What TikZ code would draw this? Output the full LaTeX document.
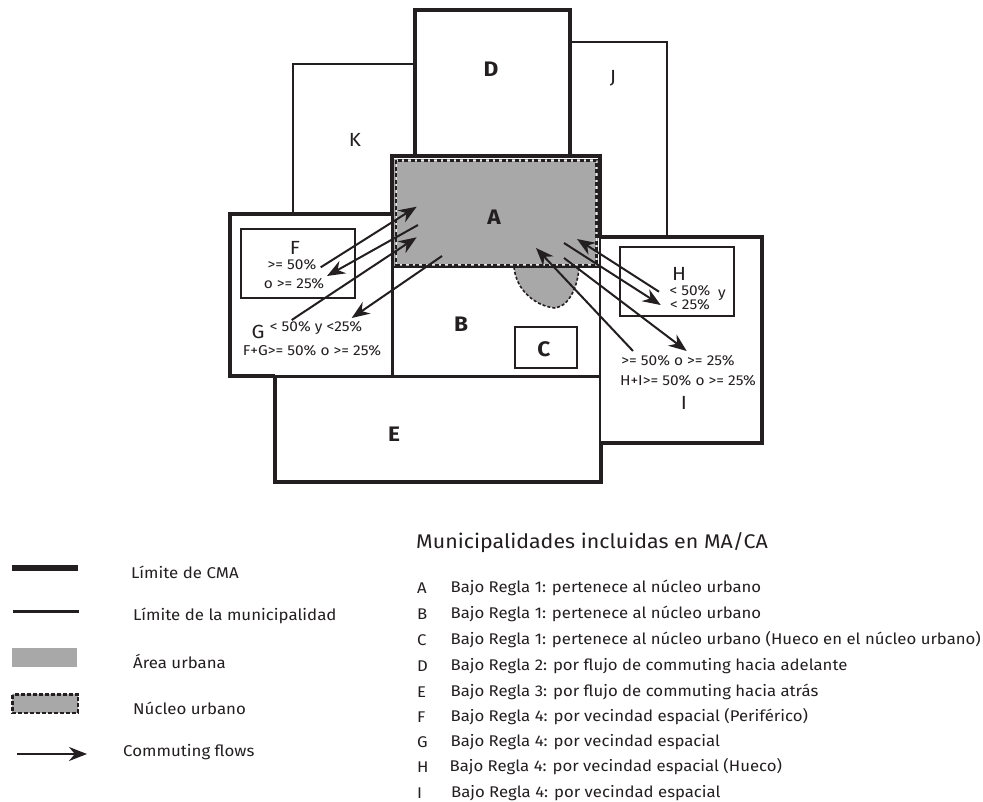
\documentclass[tikz,border=0pt]{standalone}
\usepackage{fontspec}
\setmainfont[FakeStretch=1.08]{Fira Sans}
\usetikzlibrary{arrows.meta}
\definecolor{ink}{HTML}{231F20}
\definecolor{urb}{HTML}{A9A8A9}
\tikzset{
  x=1pt,y=-1pt,
  cma/.style={draw=ink,line width=4.5pt,line join=miter},
  muni/.style={draw=ink,line width=2pt},
  mid/.style={draw=ink,line width=2.5pt},
  nucleo/.style={draw=ink,line width=2.5pt,dash pattern=on 4pt off 2.5pt},
  flow/.style={draw=ink,line width=2pt,-{Stealth[length=18pt,width=14pt]}},
  lab/.style={inner sep=0pt,text=ink,anchor=center},
  big/.style={lab,font=\fontsize{21}{21}\selectfont\bfseries},
  reg/.style={lab,font=\fontsize{19}{19}\selectfont},
  pct/.style={lab,font=\fontsize{14.3}{14.3}\selectfont},
  leg/.style={inner sep=0pt,text=ink,anchor=west,font=\fontsize{15.6}{15.6}\selectfont},
  lst/.style={inner sep=0pt,text=ink,anchor=west,font=\fontsize{15.5}{15.5}\selectfont},
}
\begin{document}
\begin{tikzpicture}
\useasboundingbox (0,0) rectangle (983,802);
% urban areas
\fill[urb] (394,159) rectangle (598,267);
\fill[urb] (514,267) .. controls (516,290) and (535,306) .. (555,308) .. controls (570,306) and (578,285) .. (579,267) -- cycle;
\draw[ink,line width=1.6pt,dash pattern=on 3pt off 2pt] (514,267) .. controls (516,290) and (535,306) .. (555,308) .. controls (570,306) and (578,285) .. (579,267);
% municipalities
\draw[muni] (415,64) -- (293,64) -- (293,214);
\draw[muni] (570,42) -- (667,42) -- (667,238);
\draw[mid] (392,267) -- (600,267);
\draw[mid] (230,376.5) -- (600,376.5);
\draw[muni] (600,237) -- (600,443);
\draw[mid] (241,229) rectangle (355,298);
\draw[mid] (620,247) rectangle (734,316);
\draw[mid] (515,327) rectangle (577,368);
% CMA limits
\draw[cma] (415,156) -- (415,10) -- (570,10) -- (570,156);
\draw[cma] (392,214) -- (392,156) -- (600,156) -- (600,238);
\draw[cma] (392,214) -- (230,214) -- (230,376) -- (275,376);
\draw[draw=ink,line width=3pt] (392,214) -- (392,376);
\draw[cma] (275,376) -- (275,482) -- (601,482) -- (601,443);
\draw[cma] (600,237) -- (762,237) -- (762,443) -- (599,443);
% core outline
\draw[draw=white,line width=1pt,opacity=.8] (396,160.5) rectangle (596.5,265);
\draw[nucleo] (396,160.5) rectangle (596.5,265);
% flows
\coordinate (a1) at (320.7,267.3); \coordinate (b1) at (416.7,206.7);
\coordinate (a2) at (418,225);     \coordinate (b2) at (327,276);
\coordinate (a3) at (291.7,320);   \coordinate (b3) at (416.7,237.3);
\coordinate (a4) at (442,256);     \coordinate (b4) at (351.7,318);
\coordinate (a5) at (659,291.7);   \coordinate (b5) at (577,239);
\coordinate (a6) at (564,243);     \coordinate (b6) at (660.7,305);
\coordinate (a7) at (633,351);     \coordinate (b7) at (536,248);
\coordinate (a8) at (564,258);     \coordinate (b8) at (686.7,351);
\foreach \i in {1,...,8} \draw[flow] (a\i) -- (b\i);
% region letters
\node[big] (lA) at (494,217) {A};
\node[big] (lB) at (461,324) {B};
\node[big] (lC) at (544,349) {C};
\node[big] (lD) at (491,69) {D};
\node[big] (lE) at (394,434) {E};
\node[reg] (lJ) at (613,78) {J};
\node[reg] (lK) at (355,140) {K};
\node[reg] (lF) at (295,248) {F};
\node[reg] (lG) at (258,332) {G};
\node[reg] (lH) at (679,274) {H};
\node[reg] (lI) at (684,403) {I};
% percentages
\node[pct] (p1) at (292,265) {>= 50\%};
\node[pct] (p2) at (294,284) {o >= 25\%};
\node[pct] (p3) at (316,328) {< 50\% y <25\%};
\node[pct] (p4) at (312,351) {F+G>= 50\% o >= 25\%};
\node[pct] (p5) at (690,291) {< 50\%};
\node[pct] (p6) at (690,305) {< 25\%};
\node[pct] (p7) at (722,295) {y};
\node[pct] (p8) at (678,361) {>= 50\% o >= 25\%};
\node[pct] (p9) at (688,381) {H+I>= 50\% o >= 25\%};
% legend
\draw[draw=ink,line width=6pt] (12,568) -- (78,568);
\draw[draw=ink,line width=3pt] (13,611) -- (79,611);
\fill[urb] (12,648) rectangle (77,667);
\fill[urb] (12,694) rectangle (78,713);
\draw[draw=ink,line width=2.5pt,dash pattern=on 4pt off 2pt] (12.5,694.5) rectangle (78,713);
\coordinate (la) at (17,754); \coordinate (lb) at (87,754);
\draw[flow] (la) -- (lb);
\node[leg] (t1) at (131,572) {Límite de CMA};
\node[leg] (t2) at (133,616) {Límite de la municipalidad};
\node[leg] (t3) at (133,661) {Área urbana};
\node[leg] (t4) at (133,708) {Núcleo urbano};
\node[leg] (t5) at (123,752) {Commuting flows};
% list
\node[inner sep=0pt,text=ink,anchor=west,font=\fontsize{19.8}{19.8}\selectfont] (h) at (416,543) {Municipalidades incluidas en MA/CA};
\foreach \y/\k/\l/\t in {
  588/A/450.5/{Bajo Regla 1: pertenece al núcleo urbano},
  614/B/450.5/{Bajo Regla 1: pertenece al núcleo urbano},
  640/C/450.5/{Bajo Regla 1: pertenece al núcleo urbano (Hueco en el núcleo urbano)},
  666/D/450.5/{Bajo Regla 2: por flujo de commuting hacia adelante},
  692/E/450.5/{Bajo Regla 3: por flujo de commuting hacia atrás},
  717/F/450.5/{Bajo Regla 4: por vecindad espacial (Periférico)},
  742/G/450.5/{Bajo Regla 4: por vecindad espacial},
  767/H/449.5/{Bajo Regla 4: por vecindad espacial (Hueco)},
  793/I/451/{Bajo Regla 4: por vecindad espacial}}{
  \node[lst] at (417,\y) {\k};
  \node[lst] at (\l,\y) {\t};
}
\end{tikzpicture}
\end{document}
